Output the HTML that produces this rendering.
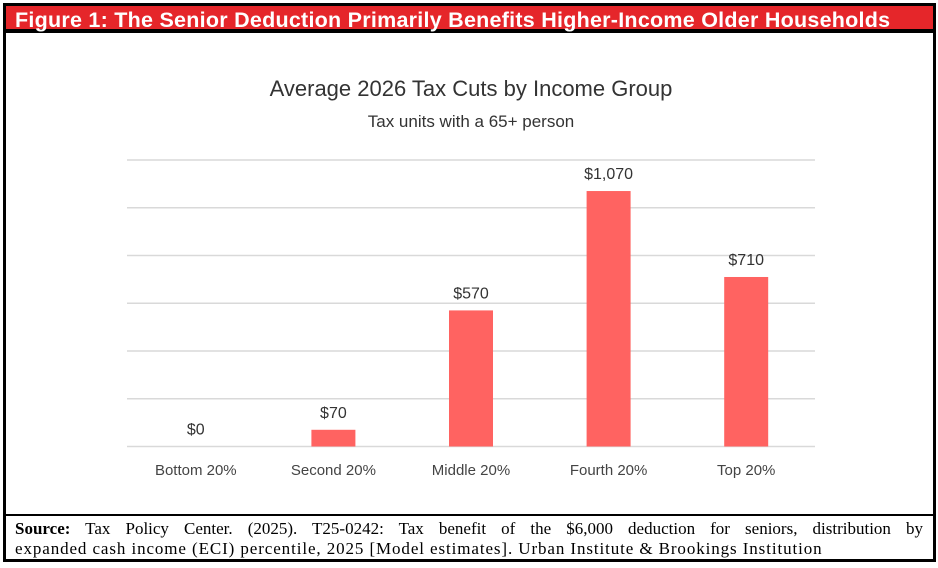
<!DOCTYPE html>
<html><head><meta charset="utf-8"><style>
body{margin:0;width:938px;height:568px;background:#fff;position:relative;overflow:hidden;font-family:"Liberation Sans",sans-serif}
#frame{position:absolute;left:3px;top:3px;width:927px;height:553px;border:3px solid #000;}
#hdr{position:absolute;left:6px;top:6px;width:927px;height:27px;background:#e5262a;border-bottom:4px solid #000;color:#fff;font-weight:bold;font-size:21.5px;line-height:28px;padding-left:9px;box-sizing:border-box;letter-spacing:0.25px;white-space:nowrap}
#foot{position:absolute;left:6px;top:514px;width:927px;height:45px;border-top:2px solid #000;font-family:"Liberation Serif",serif;font-size:17px;line-height:20px;padding:3px 10px 0 9px;box-sizing:border-box;color:#000;white-space:nowrap}
#foot .l1{display:block;text-align:justify;text-align-last:justify;white-space:normal}
#foot .l2{letter-spacing:0.9px}
svg{position:absolute;left:0;top:0}
</style></head><body>
<div id="frame"></div>
<div id="hdr">Figure 1: The Senior Deduction Primarily Benefits Higher-Income Older Households</div>
<svg width="938" height="568" id="chart">
<text x="471" y="96" text-anchor="middle" font-size="22" fill="#333">Average 2026 Tax Cuts by Income Group</text>
<text x="471" y="127" text-anchor="middle" font-size="17" fill="#333">Tax units with a 65+  person</text>
</svg>
<div id="foot"><span class="l1"><b>Source:</b> Tax Policy Center. (2025). T25-0242: Tax benefit of the $6,000 deduction for seniors, distribution by</span><span class="l2">expanded cash income (ECI) percentile, 2025 [Model estimates]. Urban Institute &amp; Brookings Institution</span></div>
<script>
const categories=["Bottom 20%","Second 20%","Middle 20%","Fourth 20%","Top 20%"];
const values=[0,70,570,1070,710];
const valueLabels=["$0","$70","$570","$1,070","$710"];
const gridTicks=[0,200,400,600,800,1000,1200];
const svg=document.getElementById('chart');
const NS="http://www.w3.org/2000/svg";
const x0=127,x1=815,y0=446.5,yTop=160,vmax=1200;
const y=v=>y0-(v/vmax)*(y0-yTop);
const band=(x1-x0)/categories.length;
const xc=i=>x0+band*(i+0.5);
function mk(t,a){const e=document.createElementNS(NS,t);for(const k in a)e.setAttribute(k,a[k]);svg.appendChild(e);return e;}
gridTicks.forEach(t=>{
 const l=mk('line',{x1:x0,x2:x1,y1:y(t),y2:y(t),stroke:'#d9d9d9','stroke-width':1.5});
 
 
});
categories.forEach((c,i)=>{
 const v=values[i];
 const r=mk('rect',{x:xc(i)-22,y:y(v),width:44,height:y0-y(v),fill:'#ff6361'});
 
 
 const t=mk('text',{x:xc(i),y:y(v)-12,'text-anchor':'middle','font-size':16,fill:'#333'});
 t.textContent=valueLabels[i];
 
 
 const a=mk('text',{x:xc(i),y:475,'text-anchor':'middle','font-size':15,fill:'#444'});
 a.textContent=c;
 
 
});
</script>
</body></html>
